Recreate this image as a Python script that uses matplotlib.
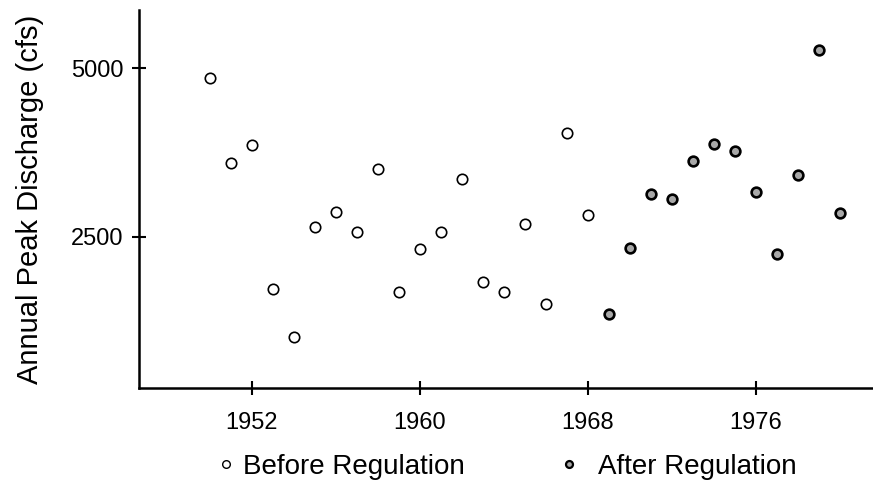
"""
Annual peak discharge before and after regulation, as a scatter plot.
"""

import matplotlib
matplotlib.use("Agg")
import matplotlib.pyplot as plt
from matplotlib.lines import Line2D

DPI = 100

plt.rcParams["font.family"] = ["Liberation Sans", "DejaVu Sans"]

# data
years_before = [1950, 1951, 1952, 1953, 1954, 1955, 1956, 1957, 1958, 1959,
                1960, 1961, 1962, 1963, 1964, 1965, 1966, 1967, 1968]
peak_before = [4851, 3600, 3857, 1722, 1014, 2648, 2862, 2565, 3500, 1674,
               2312, 2565, 3352, 1822, 1674, 2688, 1500, 4035, 2817]

years_after = [1969, 1970, 1971, 1972, 1973, 1974, 1975, 1976, 1977, 1978,
               1979, 1980]
peak_after = [1347, 2336, 3133, 3059, 3628, 3880, 3772, 3167, 2238, 3416,
              5272, 2847]

x_ticks = [1952, 1960, 1968, 1976]
y_ticks = [2500, 5000]

FILL_GRAY = "#a8a8a8"


def plot_discharge():
    fig = plt.figure(figsize=(8.73, 4.84), dpi=DPI)
    ax = fig.add_axes([0.1592, 0.1977, 0.8408, 0.7816])

    ax.plot(years_before, peak_before, linestyle="none", marker="o",
            markersize=7.5, markerfacecolor="white", markeredgecolor="black",
            markeredgewidth=1.2)
    ax.plot(years_after, peak_after, linestyle="none", marker="o",
            markersize=7.0, markerfacecolor=FILL_GRAY, markeredgecolor="black",
            markeredgewidth=1.9)

    ax.set_xlim(1946.63, 1981.59)
    ax.set_ylim(249, 5866)
    ax.set_xticks(x_ticks)
    ax.set_yticks(y_ticks)

    for side in ("top", "right"):
        ax.spines[side].set_visible(False)
    for side in ("left", "bottom"):
        ax.spines[side].set_linewidth(1.8)

    ax.tick_params(axis="both", direction="inout", length=10.5, width=1.5,
                   labelsize=17)
    ax.tick_params(axis="y", pad=6)
    ax.tick_params(axis="x", pad=12)

    ax.set_ylabel("Annual Peak Discharge (cfs)", fontsize=21, labelpad=19)

    # legend below the plot, two entries with their own spacing
    before_handle = Line2D([], [], linestyle="none", marker="o", markersize=5.5,
                           markerfacecolor="white", markeredgecolor="black",
                           markeredgewidth=1.0)
    after_handle = Line2D([], [], linestyle="none", marker="o", markersize=5.0,
                          markerfacecolor=FILL_GRAY, markeredgecolor="black",
                          markeredgewidth=1.6)

    fig.legend([before_handle], ["Before Regulation"], loc="center left",
               bbox_to_anchor=(211.7 / 873, 1 - 467 / 484), frameon=False,
               fontsize=20, handlelength=1.0, handletextpad=0.12,
               borderpad=0, borderaxespad=0)
    fig.legend([after_handle], ["After Regulation"], loc="center left",
               bbox_to_anchor=(555.3 / 873, 1 - 467 / 484), frameon=False,
               fontsize=20, handlelength=1.0, handletextpad=0.54,
               borderpad=0, borderaxespad=0)

    return fig


def main():
    fig = plot_discharge()
    fig.savefig("out.png", dpi=DPI)
    plt.close(fig)


if __name__ == "__main__":
    main()
